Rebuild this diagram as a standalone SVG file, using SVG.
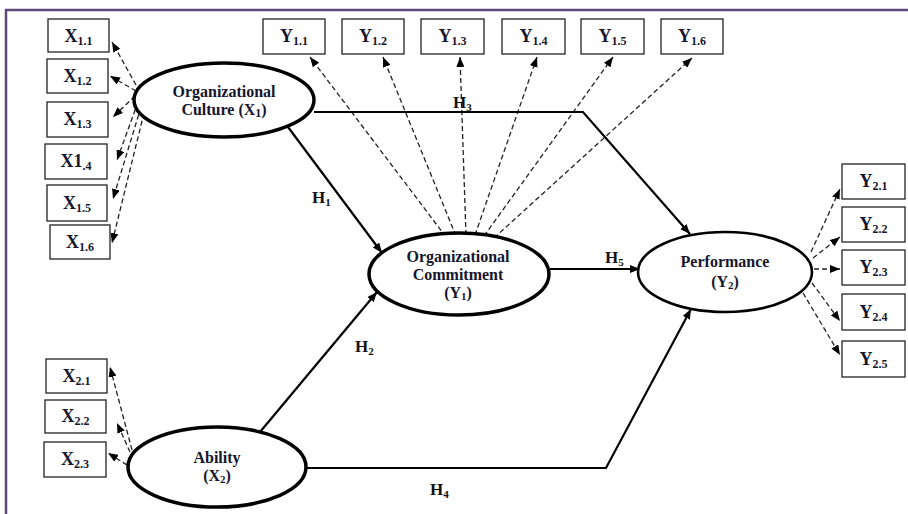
<svg xmlns="http://www.w3.org/2000/svg" width="908" height="514" viewBox="0 0 908 514">
<defs>
<marker id="ah" viewBox="0 0 10 8" refX="10" refY="4" markerWidth="10" markerHeight="8" markerUnits="userSpaceOnUse" orient="auto">
<path d="M0,0 L10,4 L0,8 Z" fill="#000"/>
</marker>
<style>
.box{fill:#fff;stroke:#222;stroke-width:1.3}
.lbl{font-family:"Liberation Serif","Times New Roman",serif;font-weight:bold;font-size:18px;fill:#16162e;text-anchor:middle}
.sub{font-size:12px}
.etx{font-family:"Liberation Serif","Times New Roman",serif;font-weight:bold;font-size:16px;fill:#16162e;text-anchor:middle}
.hl{font-family:"Liberation Serif","Times New Roman",serif;font-weight:bold;font-size:17px;fill:#111}
.ell{fill:#fff;stroke:#000;stroke-width:3.5}
.dash{fill:none;stroke:#222;stroke-width:1.3;stroke-dasharray:5 3;marker-end:url(#ah)}
.solid{fill:none;stroke:#000;stroke-width:2.2;marker-end:url(#ah)}
</style>
</defs>
<rect width="908" height="514" fill="#fff"/>
<path d="M6,514 V10 H908" fill="none" stroke="#5b4a7a" stroke-width="2.5"/>

<g id="connectors">
<!-- X1 indicators -->
<line class="dash" x1="136" y1="85" x2="112" y2="42"/>
<line class="dash" x1="136" y1="91" x2="110" y2="76"/>
<line class="dash" x1="135" y1="96" x2="113" y2="117"/>
<line class="dash" x1="138" y1="102" x2="117" y2="160"/>
<line class="dash" x1="141" y1="107" x2="113" y2="199"/>
<line class="dash" x1="144" y1="113" x2="112" y2="243"/>
<!-- Y1 indicators -->
<line class="dash" x1="446" y1="237" x2="310" y2="57"/>
<line class="dash" x1="456" y1="236" x2="383" y2="57"/>
<line class="dash" x1="466" y1="235" x2="460" y2="57"/>
<line class="dash" x1="475" y1="235" x2="537" y2="57"/>
<line class="dash" x1="484" y1="236" x2="613" y2="57"/>
<line class="dash" x1="494" y1="238" x2="692" y2="58"/>
<!-- Y2 indicators -->
<line class="dash" x1="811" y1="252" x2="840" y2="189"/>
<line class="dash" x1="813" y1="258" x2="840" y2="237"/>
<line class="dash" x1="814" y1="269" x2="840" y2="269"/>
<line class="dash" x1="812" y1="283" x2="840" y2="321"/>
<line class="dash" x1="803" y1="293" x2="840" y2="355"/>
<!-- X2 indicators -->
<line class="dash" x1="132" y1="450" x2="110" y2="367"/>
<line class="dash" x1="130" y1="452" x2="117" y2="423"/>
<line class="dash" x1="127" y1="465" x2="108" y2="453"/>
<!-- structural paths -->
<line class="solid" x1="288" y1="127" x2="382" y2="253"/>
<line class="solid" x1="260" y1="432" x2="377" y2="292"/>
<polyline class="solid" points="314,112 583,112 690,234"/>
<polyline class="solid" points="305,468 606,468 691,309"/>
<line class="solid" x1="550" y1="269" x2="640" y2="269"/>
</g>

<g id="org_culture">
<ellipse class="ell" cx="224" cy="100" rx="90" ry="37"/>
<text class="etx" x="224" y="97">Organizational</text>
<text class="etx" x="224" y="115">Culture (X<tspan class="sub" font-size="11" dy="2">1</tspan><tspan dy="-2">)</tspan></text>
</g>
<g id="org_commitment">
<ellipse class="ell" cx="459" cy="274" rx="90" ry="41"/>
<text class="etx" x="458" y="262">Organizational</text>
<text class="etx" x="458" y="280">Commitment</text>
<text class="etx" x="458" y="298">(Y<tspan font-size="11" dy="2">1</tspan><tspan dy="-2">)</tspan></text>
</g>
<g id="performance">
<ellipse cx="725" cy="272" rx="87" ry="40" fill="#fff" stroke="#000" stroke-width="2.6"/>
<text class="etx" x="725" y="267">Performance</text>
<text class="etx" x="725" y="287">(Y<tspan font-size="11" dy="2">2</tspan><tspan dy="-2">)</tspan></text>
</g>
<g id="ability">
<ellipse class="ell" cx="217" cy="467" rx="89" ry="40"/>
<text class="etx" x="217" y="463">Ability</text>
<text class="etx" x="217" y="481">(X<tspan font-size="11" dy="2">2</tspan><tspan dy="-2">)</tspan></text>
</g>

<g id="h_labels">
<text class="hl" x="312" y="203">H<tspan font-size="11" dy="3">1</tspan></text>
<text class="hl" x="355" y="352">H<tspan font-size="11" dy="3">2</tspan></text>
<text class="hl" x="453" y="108">H<tspan font-size="11" dy="3">3</tspan></text>
<text class="hl" x="430" y="495">H<tspan font-size="11" dy="3">4</tspan></text>
<text class="hl" x="605" y="263">H<tspan font-size="11" dy="3">5</tspan></text>
</g>

<g id="x1_1"><rect class="box" x="48" y="19" width="61" height="33"/><text class="lbl" x="78.5" y="42">X<tspan class="sub" dy="3">1.1</tspan></text></g>
<g id="x1_2"><rect class="box" x="47" y="59" width="61" height="34"/><text class="lbl" x="77.5" y="82">X<tspan class="sub" dy="3">1.2</tspan></text></g>
<g id="x1_3"><rect class="box" x="47" y="102" width="61" height="35"/><text class="lbl" x="77.5" y="125">X<tspan class="sub" dy="3">1.3</tspan></text></g>
<g id="x1_4"><rect class="box" x="45" y="144" width="62" height="35"/><text class="lbl" x="76" y="167">X1<tspan class="sub" dy="3">.4</tspan></text></g>
<g id="x1_5"><rect class="box" x="47" y="185" width="60" height="36"/><text class="lbl" x="77" y="209">X<tspan class="sub" dy="3">1.5</tspan></text></g>
<g id="x1_6"><rect class="box" x="50" y="225" width="60" height="34"/><text class="lbl" x="80" y="248">X<tspan class="sub" dy="3">1.6</tspan></text></g>

<g id="y1_1"><rect class="box" x="263" y="19" width="62" height="35"/><text class="lbl" x="294" y="42">Y<tspan class="sub" dy="3">1.1</tspan></text></g>
<g id="y1_2"><rect class="box" x="342" y="19" width="62" height="35"/><text class="lbl" x="373" y="42">Y<tspan class="sub" dy="3">1.2</tspan></text></g>
<g id="y1_3"><rect class="box" x="421" y="19" width="63" height="35"/><text class="lbl" x="452.5" y="42">Y<tspan class="sub" dy="3">1.3</tspan></text></g>
<g id="y1_4"><rect class="box" x="502" y="19" width="63" height="35"/><text class="lbl" x="533.5" y="42">Y<tspan class="sub" dy="3">1.4</tspan></text></g>
<g id="y1_5"><rect class="box" x="581" y="19" width="63" height="35"/><text class="lbl" x="612.5" y="42">Y<tspan class="sub" dy="3">1.5</tspan></text></g>
<g id="y1_6"><rect class="box" x="661" y="19" width="62" height="35"/><text class="lbl" x="692" y="42">Y<tspan class="sub" dy="3">1.6</tspan></text></g>

<g id="y2_1"><rect class="box" x="842" y="164" width="63" height="35"/><text class="lbl" x="873.5" y="187">Y<tspan class="sub" dy="3">2.1</tspan></text></g>
<g id="y2_2"><rect class="box" x="842" y="207" width="63" height="35"/><text class="lbl" x="873.5" y="230">Y<tspan class="sub" dy="3">2.2</tspan></text></g>
<g id="y2_3"><rect class="box" x="842" y="250" width="63" height="35"/><text class="lbl" x="873.5" y="273">Y<tspan class="sub" dy="3">2.3</tspan></text></g>
<g id="y2_4"><rect class="box" x="842" y="294" width="63" height="36"/><text class="lbl" x="873.5" y="318">Y<tspan class="sub" dy="3">2.4</tspan></text></g>
<g id="y2_5"><rect class="box" x="842" y="341" width="63" height="36"/><text class="lbl" x="873.5" y="365">Y<tspan class="sub" dy="3">2.5</tspan></text></g>

<g id="x2_1"><rect class="box" x="46" y="359" width="61" height="34"/><text class="lbl" x="76.5" y="382">X<tspan class="sub" dy="3">2.1</tspan></text></g>
<g id="x2_2"><rect class="box" x="45" y="400" width="61" height="33"/><text class="lbl" x="75.5" y="422">X<tspan class="sub" dy="3">2.2</tspan></text></g>
<g id="x2_3"><rect class="box" x="44" y="442" width="62" height="35"/><text class="lbl" x="75" y="465">X<tspan class="sub" dy="3">2.3</tspan></text></g>
</svg>
